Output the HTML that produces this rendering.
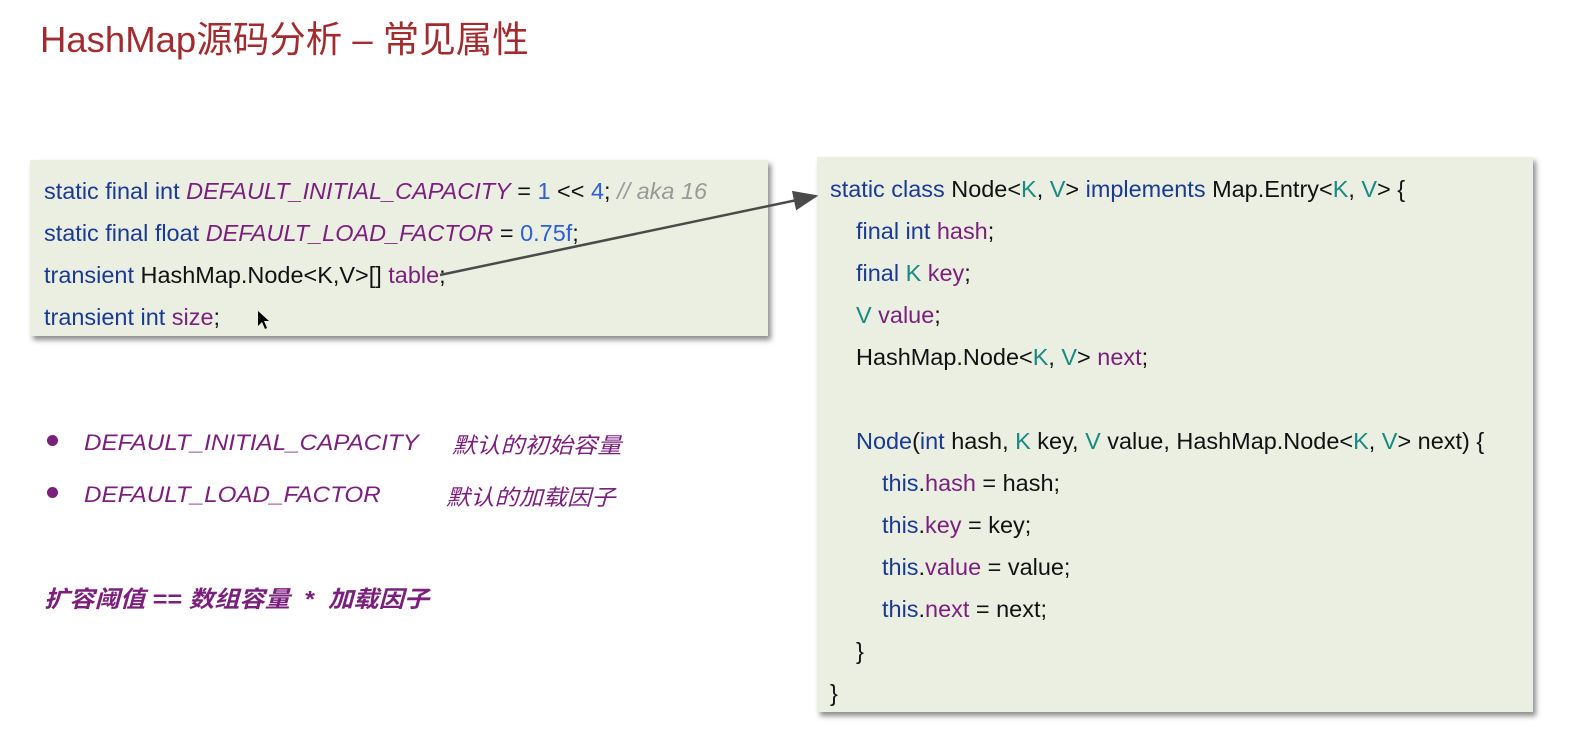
<!DOCTYPE html>
<html><head><meta charset="utf-8"><style>
body{margin:0;width:1582px;height:747px;background:#fff;font-family:"Liberation Sans","Noto Sans CJK SC",sans-serif;position:relative;overflow:hidden}
.t{position:absolute;left:40px;top:10px;font-size:36.5px;color:#a12b2e;white-space:nowrap}
.box{position:absolute;background:#ebefe2;box-shadow:3px 4px 5px rgba(0,0,0,.45)}
.l{position:absolute;font-size:23px;white-space:nowrap;color:#111;transform:scaleX(1.02);transform-origin:left}
.k{color:#1a3a92}.p{color:#7a1f7c;}.i{font-style:italic}.n{color:#2f5fd0}.c{color:#999;font-style:italic}.g{color:#188a82}
.b{position:absolute;font-size:22px;color:#7a1f7c;font-style:italic;white-space:nowrap;transform:scaleX(1.1);transform-origin:left}
.dot{position:absolute;width:11px;height:11px;border-radius:50%;background:#7a1f7c}
</style></head><body>
<div class="t">HashMap源码分析 – 常见属性</div>
<div class="box" style="left:30px;top:160px;width:738px;height:176px"></div>
<div class="box" style="left:817px;top:157px;width:716px;height:555px"></div>
<div class="l" style="left:44px;top:178px"><span class="k">static final int</span> <span class="p i">DEFAULT_INITIAL_CAPACITY</span> = <span class="n">1</span> &lt;&lt; <span class="n">4</span>; <span class="c">// aka 16</span></div>
<div class="l" style="left:44px;top:220px"><span class="k">static final float</span> <span class="p i">DEFAULT_LOAD_FACTOR</span> = <span class="n">0.75f</span>;</div>
<div class="l" style="left:44px;top:262px"><span class="k">transient</span> HashMap.Node&lt;K,V&gt;[] <span class="p">table</span>;</div>
<div class="l" style="left:44px;top:304px"><span class="k">transient int</span> <span class="p">size</span>;</div>
<div class="l" style="left:830px;top:176px"><span class="k">static class</span> Node&lt;<span class="g">K</span>, <span class="g">V</span>&gt; <span class="k">implements</span> Map.Entry&lt;<span class="g">K</span>, <span class="g">V</span>&gt; {</div>
<div class="l" style="left:856px;top:218px"><span class="k">final int</span> <span class="p">hash</span>;</div>
<div class="l" style="left:856px;top:260px"><span class="k">final</span> <span class="g">K</span> <span class="p">key</span>;</div>
<div class="l" style="left:856px;top:302px"><span class="g">V</span> <span class="p">value</span>;</div>
<div class="l" style="left:856px;top:344px">HashMap.Node&lt;<span class="g">K</span>, <span class="g">V</span>&gt; <span class="p">next</span>;</div>
<div class="l" style="left:856px;top:428px"><span class="k">Node</span>(<span class="k">int</span> hash, <span class="g">K</span> key, <span class="g">V</span> value, HashMap.Node&lt;<span class="g">K</span>, <span class="g">V</span>&gt; next) {</div>
<div class="l" style="left:882px;top:470px"><span class="k">this</span>.<span class="p">hash</span> = hash;</div>
<div class="l" style="left:882px;top:512px"><span class="k">this</span>.<span class="p">key</span> = key;</div>
<div class="l" style="left:882px;top:554px"><span class="k">this</span>.<span class="p">value</span> = value;</div>
<div class="l" style="left:882px;top:596px"><span class="k">this</span>.<span class="p">next</span> = next;</div>
<div class="l" style="left:856px;top:638px">}</div>
<div class="l" style="left:830px;top:680px">}</div>
<svg style="position:absolute;left:0;top:0" width="1582" height="747">
<defs><marker id="a" markerWidth="10" markerHeight="8" refX="9" refY="4" orient="auto"><path d="M0,0L10,4L0,8z" fill="#4a4a4a"/></marker></defs>
<line x1="440" y1="275" x2="816" y2="196" stroke="#4a4a4a" stroke-width="2.5" marker-end="url(#a)"/>
<path d="M258,311v15l4,-4l3,7l2,-1l-3,-7h5z" fill="#000"/>
</svg>
<div class="dot" style="left:47px;top:435px"></div>
<div class="dot" style="left:47px;top:487px"></div>
<div class="b" style="left:84px;top:430px">DEFAULT_INITIAL_CAPACITY</div>
<div class="b" style="left:452px;top:428px">默认的初始容量</div>
<div class="b" style="left:84px;top:482px">DEFAULT_LOAD_FACTOR</div>
<div class="b" style="left:446px;top:480px">默认的加载因子</div>
<div class="b" style="left:44px;top:580px;font-weight:bold;font-size:23px">扩容阈值 == 数组容量&nbsp; *&nbsp; 加载因子</div>
</body></html>
